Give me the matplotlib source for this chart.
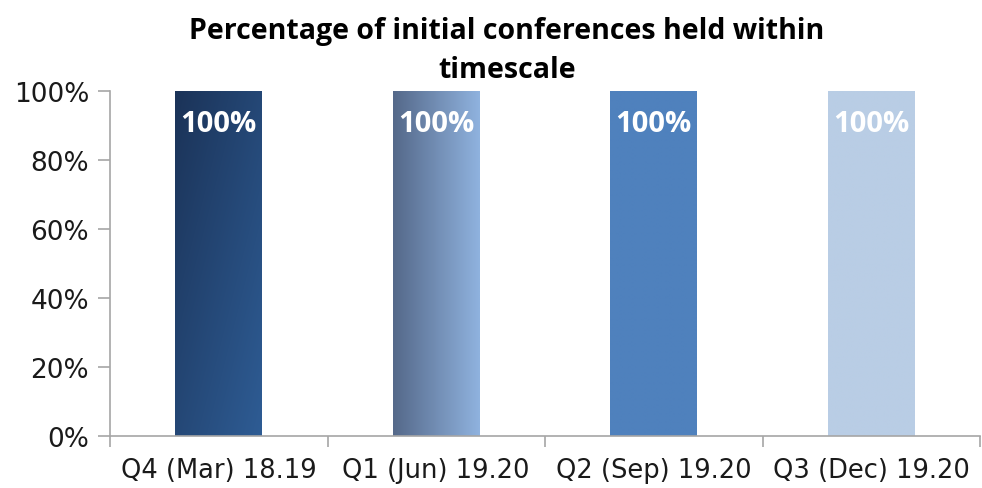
import numpy as np
import matplotlib.pyplot as plt
from matplotlib.colors import LinearSegmentedColormap

# ── Data ──────────────────────────────────────────────────────────────────────
categories = ["Q4 (Mar) 18.19", "Q1 (Jun) 19.20", "Q2 (Sep) 19.20", "Q3 (Dec) 19.20"]
values = [100, 100, 100, 100]
y_ticks = [0, 20, 40, 60, 80, 100]

# bar fills: (start colour, end colour, direction)
fills = [("#1B3358", "#2E5C94", "diag"),
         ("#55698A", "#8FB2DE", "horiz"),
         ("#4F81BD", "#4F81BD", "horiz"),
         ("#B9CDE5", "#B9CDE5", "horiz")]

C_AXIS = "#A6A6A6"
TICK_FONT = ["DejaVu Sans"]
BOLD_FONT = ["Open Sans", "DejaVu Sans"]

fig = plt.figure(figsize=(9.82, 4.89), dpi=100)
ax = fig.add_axes([110 / 982, 1 - 437 / 489, 870 / 982, 345 / 489])

x = np.arange(len(categories))
bars = ax.bar(x, values, width=0.4, color="none", zorder=2)

# gradient fills clipped to each bar
for b, v, (c0, c1, mode) in zip(bars, values, fills):
    cmap = LinearSegmentedColormap.from_list("g", [c0, c1])
    gx, gy = np.meshgrid(np.linspace(0, 1, 64), np.linspace(0, 1, 64))
    grad = (gx + (1 - gy)) / 2 if mode == "diag" else gx
    x0, w, h = b.get_x(), b.get_width(), b.get_height()
    im = ax.imshow(grad, cmap=cmap, extent=[x0, x0 + w, 0, h], origin="lower",
                   aspect="auto", zorder=2, interpolation="bilinear")
    im.set_clip_path(b)
    ax.text(x0 + w / 2, h - 9.5, f"{v}%", ha="center",
            va="center", color="white", fontsize=21, fontweight="bold",
            family=BOLD_FONT, zorder=3)

ax.set_xlim(-0.5, len(categories) - 0.5)
ax.set_ylim(0, 100)
ax.set_yticks(y_ticks)
ax.set_yticklabels([f"{t}%" for t in y_ticks], family=TICK_FONT, fontsize=19,
                   color="#1A1A1A")
ax.set_xticks(x)
ax.set_xticklabels(categories, family=TICK_FONT, fontsize=18.5, color="#1A1A1A")
ax.tick_params(axis="x", length=0, pad=15)
ax.set_xticks(np.arange(len(categories) + 1) - 0.5, minor=True)
ax.tick_params(axis="x", which="minor", length=8, color=C_AXIS, width=1.2)
ax.tick_params(axis="y", length=9, color=C_AXIS, width=1.2, pad=6)

for s in ["top", "right"]:
    ax.spines[s].set_visible(False)
for s in ["left", "bottom"]:
    ax.spines[s].set_color(C_AXIS)
    ax.spines[s].set_linewidth(1.2)

fig.text(507 / 982, 1 - 51 / 489,
         "Percentage of initial conferences held within\ntimescale",
         ha="center", va="center", fontsize=20.5, fontweight="bold",
         family=BOLD_FONT, color="#000000", linespacing=1.45)

fig.savefig("out.png", dpi=100, facecolor="white")
